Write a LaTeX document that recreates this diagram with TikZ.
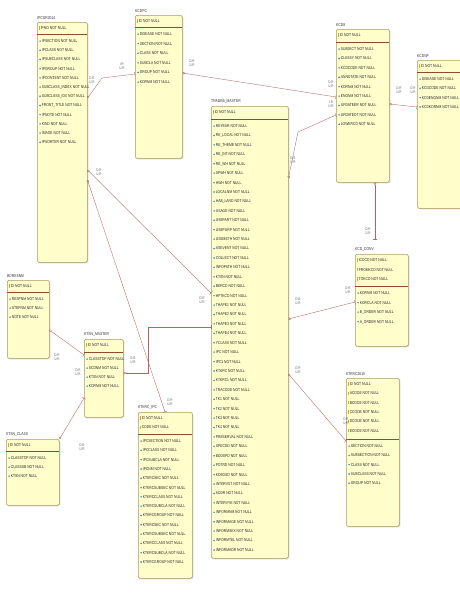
\documentclass[tikz,border=0pt]{standalone}
\usepackage{fontspec}
\newfontfamily\erfont[FakeStretch=0.8]{Liberation Sans}
\usetikzlibrary{arrows.meta,calc,shadows}
\definecolor{boxfill}{RGB}{255,255,204}
\definecolor{boxline}{RGB}{175,150,95}
\definecolor{sepc}{RGB}{140,75,50}
\definecolor{relc}{RGB}{180,100,100}
\definecolor{keyc}{RGB}{215,170,40}
\definecolor{fldc}{RGB}{70,140,215}
\newcommand{\pk}[1]{\textcolor{keyc}{\rule[-0.3pt]{0.6pt}{3.4pt}}\hspace{1pt}#1}
\newcommand{\fd}[1]{\textcolor{fldc}{\raisebox{0.5pt}{\rotatebox{45}{\rule{1.3pt}{1.3pt}}}}\hspace{0.8pt}#1}
\def\rowsep{9.4}
% #1 name, #2 x, #3 y, #4 width, #5 height, #6 separator y, #7 title, #8 keys, #9 fields
\newcommand{\ertable}[9]{%
  \node[tbl, minimum width=#4, minimum height=#5] (#1) at (#2,#3) {};
  \node[ttl] (#1-t) at (#1.north west) {#7};
  \draw[sepline] (#2,#6) -- (#2+#4,#6);
  \foreach \k [count=\i from 0] in {#8}
    \node[row] (#1-k\i) at (#2+2,#3+7.5+\i*\rowsep) {\pk{\k}};
  \foreach \f [count=\i from 0] in {#9}
    \node[row] (#1-f\i) at (#2+2,#6+8.5+\i*\rowsep) {\fd{\f}};
}
\begin{document}
\begin{tikzpicture}[x=1pt,y=-1pt,
  tbl/.style={draw=boxline, fill=boxfill, line width=0.5pt, rounded corners=1.5pt,
    anchor=north west, inner sep=0,
    drop shadow={shadow xshift=1pt, shadow yshift=-1pt, fill=black!30}},
  ttl/.style={anchor=south west, inner sep=0, yshift=2.5pt, text=black!80,
    font=\erfont\fontsize{4.2}{5}\selectfont},
  sepline/.style={draw=sepc, line width=0.5pt},
  row/.style={anchor=base west, inner sep=0, text=black!85,
    font=\erfont\fontsize{4.2}{5}\selectfont},
  rel/.style={draw=relc, line width=0.35pt,
    {Circle[open,length=2.4pt,width=2.4pt]}-{Bar[width=4.5pt,line width=0.35pt]}},
  lbl/.style={inner sep=0, align=center, text=black!60,
    font=\erfont\fontsize{3.8}{4.1}\selectfont}]
\clip (0,0) rectangle (460,595);
\fill[white] (0,0) rectangle (460,595);
% tables
\def\rowsep{9.2}
\ertable{ipc}{37}{22}{50}{240}{34}{IPCGR2014}{IPNO NOT NULL}{IPSECTION NOT NULL,IPCLASS NOT NULL,IPSUBCLASS NOT NULL,IPGROUP NOT NULL,IPCONTENT NOT NULL,SUBCLASS\_INDEX NOT NULL,SUBCLASS\_IDX NOT NULL,FRONT\_TITLE NOT NULL,IPNOTE NOT NULL,KIND NOT NULL,IMAGE NOT NULL,IPSORTER NOT NULL}
\def\rowsep{9.6}
\ertable{kcdpc}{135}{15}{47}{143}{27}{KCDPC}{ID NOT NULL}{DISEASE NOT NULL,SECTION NOT NULL,CLASS NOT NULL,SUBCLA NOT NULL,GROUP NOT NULL,KORNM NOT NULL}
\def\rowsep{9.4}
\ertable{kcd}{336}{29}{53}{153}{42}{KCD8}{ID NOT NULL}{SUBJECT NOT NULL,CLASSY NOT NULL,KCDCODE NOT NULL,ANNOTATE NOT NULL,KORNM NOT NULL,ENGNM NOT NULL,UPDATEER NOT NULL,UPDATEDT NOT NULL,LOWERCD NOT NULL}
\def\rowsep{9.3}
\ertable{kcdnp}{417}{60}{55}{148}{72}{KCDNP}{ID NOT NULL}{DISEASE NOT NULL,KCDCODE NOT NULL,KCDENGNM NOT NULL,KCDKORNM NOT NULL}
\def\rowsep{9.42}
\ertable{trd}{211}{106}{77}{452}{119}{TRADEB\_MASTER}{ID NOT NULL}{REYEAR NOT NULL,RE\_LOCAL NOT NULL,RE\_THEME NOT NULL,RE\_INT NOT NULL,RE\_WH NOT NULL,SPWH NOT NULL,HWH NOT NULL,LOCALNM NOT NULL,HAB\_LAND NOT NULL,USAGE NOT NULL,USEPART NOT NULL,USEPURP NOT NULL,USEMETH NOT NULL,ASEVENT NOT NULL,COLLECT NOT NULL,INFOPATH NOT NULL,KTSN NOT NULL,BERCD NOT NULL,HFTKCD NOT NULL,THAPE1 NOT NULL,THAPE2 NOT NULL,THAPE3 NOT NULL,THAPE4 NOT NULL,YCLASS NOT NULL,IPC NOT NULL,IPC1 NOT NULL,KTKRC NOT NULL,KTKRC1 NOT NULL,TRACODE NOT NULL,TK1 NOT NULL,TK2 NOT NULL,TK3 NOT NULL,TK4 NOT NULL,PRESERVAL NOT NULL,SPECDD NOT NULL,BDDSPD NOT NULL,PDTRD NOT NULL,KDEDSD NOT NULL,INTERVST NOT NULL,ADDR NOT NULL,INTERVYE NOT NULL,INFORMNM NOT NULL,INFORMAGE NOT NULL,INFORMSEX NOT NULL,INFORMTEL NOT NULL,INFORMADR NOT NULL}
\def\rowsep{9.5}
\ertable{conv}{355}{254}{53}{92}{286}{KCD\_CONV}{ICDCD NOT NULL,FROMKCD NOT NULL,TOKCD NOT NULL}{KORNM NOT NULL,KORCLA NOT NULL,B\_ORDER NOT NULL,A\_ORDER NOT NULL}
\def\rowsep{9.3}
\ertable{ktk}{346}{378}{53}{148}{439}{KTKRC2010}{ID NOT NULL,ACODE NOT NULL,BCODE NOT NULL,CCODE NOT NULL,DCODE NOT NULL,ECODE NOT NULL}{SECTION NOT NULL,SUBSECTION NOT NULL,CLASS NOT NULL,SUBCLASS NOT NULL,GROUP NOT NULL}
\def\rowsep{9}
\ertable{bdr}{7}{280}{42}{78}{292}{BDRESNM}{ID NOT NULL}{RESPNM NOT NULL,STEPNM NOT NULL,NOTE NOT NULL}
\ertable{ktsn}{84}{339}{39}{78}{352}{KTSN\_MASTER}{ID NOT NULL}{CLASSTOP NOT NULL,SCDNM NOT NULL,KTSN NOT NULL,KORNM NOT NULL}
\ertable{kcls}{6}{439}{53}{66}{451}{KTSN\_CLASS}{ID NOT NULL}{CLASSTOP NOT NULL,CLASSSB NOT NULL,KTSN NOT NULL}
\def\rowsep{9.3}
\ertable{kipc}{138}{412}{54}{166}{434}{KTKRC\_IPC}{ID NOT NULL,CODE NOT NULL}{IPCSECTION NOT NULL,IPCCLASS NOT NULL,IPCSUBCLA NOT NULL,IPCNM NOT NULL,KTKRCSEC NOT NULL,KTKRCSUBSEC NOT NULL,KTKRCCLASS NOT NULL,KTKRCSUBCLA NOT NULL,KTKRCGROUP NOT NULL,KTKRCSEC NOT NULL,KTKRCSUBSEC NOT NULL,KTKRCCLASS NOT NULL,KTKRCSUBCLA NOT NULL,KTKRCGROUP NOT NULL}
% relationships
\draw[rel] ($(ipc.north east)+(0,76)$) -- (102,78) -- ($(kcdpc.north west)+(0,59)$);
\draw[rel] ($(kcdpc.north east)+(0,58)$) -- ($(kcd.north west)+(0,68)$);
\draw[rel] ($(trd.north east)+(0,72)$) -- (298,132) -- ($(kcd.north west)+(0,86)$);
\draw[rel] ($(kcd.north east)+(0,75)$) -- ($(kcdnp.north west)+(0,47)$);
\coordinate (conv-in) at ($(conv.north west)+(20,-15)$);
\draw[rel] ($(kcd.south west)+(39,0)$) -- (conv-in);
\draw[rel] ($(trd.north east)+(0,213)$) -- ($(conv.north west)+(0,48)$);
\draw[rel] ($(trd.north east)+(0,268)$) -- ($(ktk.north west)+(0,63)$);
\draw[rel] ($(ipc.north east)+(0,148)$) -- ($(trd.north west)+(0,187)$);
\draw[rel] ($(ipc.north east)+(0,158)$) -- ($(kipc.north west)+(27,0)$);
\draw[rel] ($(ktsn.north east)+(0,34)$) -- (148,373) -- (148,327) -- ($(trd.north west)+(0,221)$);
\draw[rel] ($(bdr.north east)+(0,50)$) -- ($(ktsn.north west)+(0,16)$);
\draw[rel] (kcls.north east) -- ($(ktsn.north west)+(0,59)$);
% cardinality labels
\node[lbl] (l1) at (92,80) {D:R\\U:R};
\node[lbl] (l2) at (122,66) {I:R\\U:R};
\node[lbl] (l3) at (192,63) {D:R\\U:R};
\node[lbl] (l4) at (331,84) {D:R\\U:R};
\node[lbl] (l5) at (293,160) {D:R\\U:R};
\node[lbl] (l6) at (331,104) {I:R\\U:R};
\node[lbl] (l7) at (399,90) {D:R\\U:R};
\node[lbl] (l8) at (413,90) {D:R\\U:R};
\node[lbl] (l9) at (368,231) {D:R\\U:R};
\node[lbl] (l10) at (298,301) {D:R\\U:R};
\node[lbl] (l11) at (348,290) {D:R\\U:R};
\node[lbl] (l12) at (298,370) {D:R\\U:R};
\node[lbl] (l13) at (346,421) {D:R\\U:R};
\node[lbl] (l14) at (99,172) {D:R\\U:R};
\node[lbl] (l15) at (202,300) {D:R\\U:R};
\node[lbl] (l16) at (170,402) {D:R\\U:R};
\node[lbl] (l17) at (133,360) {D:R\\U:R};
\node[lbl] (l18) at (57,357) {D:R\\U:R};
\node[lbl] (l19) at (78,372) {D:R\\U:R};
\node[lbl] (l20) at (82,447) {D:R\\U:R};
\end{tikzpicture}
\end{document}
